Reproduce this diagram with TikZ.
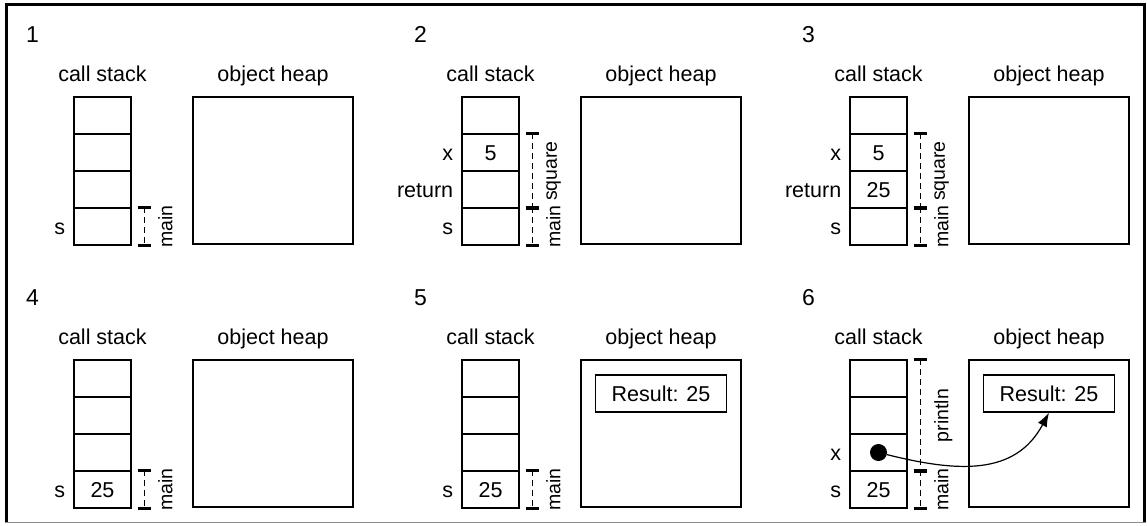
\documentclass[tikz,border=0pt]{standalone}
\usepackage{fontspec}
\setmainfont{Liberation Sans}
\usetikzlibrary{positioning,calc,arrows.meta}
\tikzset{font=\fontsize{21.5}{25}\selectfont}
\tikzset{
	num/.style={font=\fontsize{23}{27}\selectfont, anchor=base, inner sep=0pt},
	title/.style={anchor=base, inner sep=0pt},
	cell/.style={draw, line width=1.2pt, minimum width=57pt, minimum height=37pt, inner sep=0pt, text height=15.5pt, text depth=0pt},
	heap/.style={draw, line width=1.2pt, minimum width=160pt, minimum height=147pt},
	obj/.style={draw, line width=1.2pt, minimum width=131pt, minimum height=37pt, inner sep=0pt, text height=15.5pt, text depth=0pt},
	val/.style={inner sep=0pt, text height=15.5pt, text depth=0pt},
	var/.style={inner sep=0pt, text height=15.5pt, text depth=0pt},
	side/.style={font=\fontsize{19.5}{23}\selectfont, rotate=90, anchor=north, inner sep=0pt},
	brk/.style={line width=0.9pt, dash pattern=on 6pt off 4pt},
	tick/.style={line width=2.6pt},
	dot/.style={circle, fill=black, minimum size=17pt, inner sep=0pt},
	ptr/.style={line width=1.2pt, -{Latex[length=14pt,width=10pt]}},
}

\begin{document}
\begin{tikzpicture}[x=1pt, y=-1pt]
	\useasboundingbox (0,0) rectangle (1147,525);
	% frame
	\draw[line width=2.6pt] (6.5,522.5) -- (6.5,4.7) -- (1144.5,4.7) -- (1144.5,522.5);
	\draw[line width=1.2pt, black!45] (5.2,522.5) -- (1145.8,522.5);

	% six panels: number, titles, stack and heap
	\foreach \p/\dx/\dy in {1/0/0, 2/388/0, 3/776/0, 4/0/263, 5/388/263, 6/776/263} {
		\begin{scope}[shift={(\dx,\dy)}]
			\node[num] (n\p) at (32.5,42.7) {\p};
			\node[title] (cs\p) at (102.5,81.7) {call stack};
			\node[title] (oh\p) at (273,81.7) {object heap};
			\node[cell] (c\p-1) at (102.5,115.5) {};
			\node[cell] (c\p-2) at (102.5,152.5) {};
			\node[cell] (c\p-3) at (102.5,189.5) {};
			\node[cell] (c\p-4) at (102.5,226.5) {};
			\node[heap] (heap\p) at (273,170.5) {};
		\end{scope}
	}

	% variable names
	\node[var, left=8pt of c1-4] (s1) {s};
	\node[var, left=8pt of c2-2] (x2) {x};
	\node[var, left=8pt of c2-3] (ret2) {return};
	\node[var, left=8pt of c2-4] (s2) {s};
	\node[var, left=8pt of c3-2] (x3) {x};
	\node[var, left=8pt of c3-3] (ret3) {return};
	\node[var, left=8pt of c3-4] (s3) {s};
	\node[var, left=8pt of c4-4] (s4) {s};
	\node[var, left=8pt of c5-4] (s5) {s};
	\node[var, left=8pt of c6-3] (x6) {x};
	\node[var, left=8pt of c6-4] (s6) {s};

	% values
	\node[val] (v2x) at (c2-2) {5};
	\node[val] (v3x) at (c3-2) {5};
	\node[val] (v3r) at (c3-3) {25};
	\node[val] (v4s) at (c4-4) {25};
	\node[val] (v5s) at (c5-4) {25};
	\node[val] (v6s) at (c6-4) {25};
	\node[dot] (dot6) at (c6-3) {};

	% heap objects
	\node[obj, below=15pt of heap5.north] (obj5) {Result: 25};
	\node[obj, below=15pt of heap6.north] (obj6) {Result: 25};

	% frames of the calls
	\foreach \p/\a/\b/\txt in {1/4/4/main, 2/4/4/main, 2/2/3/square, 3/4/4/main, 3/2/3/square,
		4/4/4/main, 5/4/4/main, 6/4/4/main, 6/1/3/println} {
		\coordinate (bt) at ([xshift=12.5pt]c\p-\a.north east);
		\coordinate (bb) at ([xshift=12.5pt]c\p-\b.south east);
		\draw[brk] (bt) -- (bb);
		\draw[tick] ([xshift=-6.5pt]bt) -- ([xshift=6.5pt]bt);
		\draw[tick] ([xshift=-6.5pt]bb) -- ([xshift=6.5pt]bb);
		\node[side] at ($(bt)!0.5!(bb)+(14,0)$) {\txt};
	}

	\draw[ptr] (dot6) to[out=-14, in=242, looseness=1.1] (obj6.south);
\end{tikzpicture}
\end{document}
